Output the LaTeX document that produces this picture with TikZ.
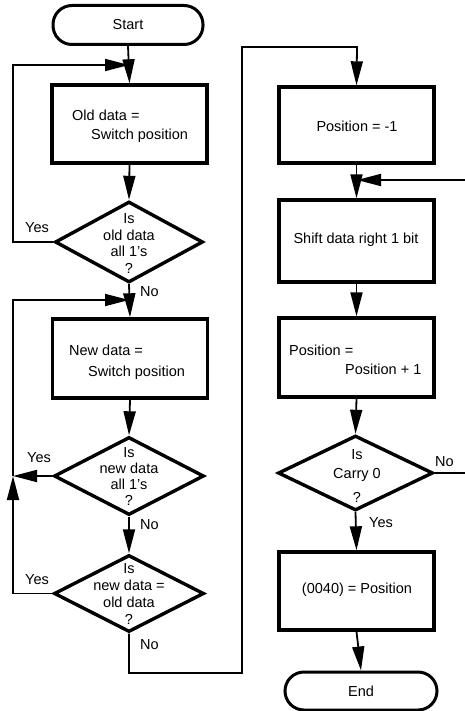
\documentclass[tikz,border=0pt]{standalone}
\usepackage{fontspec}
\setmainfont{Liberation Sans}
\usetikzlibrary{arrows.meta,shapes.geometric}
\tikzset{
  fnt/.style={font=\fontsize{14.5}{16}\selectfont},
  term/.style={draw,line width=3pt,rectangle,rounded corners=19pt,minimum width=150pt,minimum height=39pt,fnt},
  proc/.style={draw,line width=3.4pt,rectangle,minimum width=155pt,inner sep=0pt},
  dec/.style={draw,line width=3.4pt,diamond,inner sep=0pt},
  txt/.style={fnt,inner sep=0pt},
  conn/.style={line width=1.8pt,-{Triangle[length=24pt,width=12pt]}},
  plain/.style={line width=1.8pt},
}
\begin{document}
\begin{tikzpicture}[x=1pt,y=-1pt]
\useasboundingbox (0,0) rectangle (465,711);
% left column
\node[term] (start) at (128,25) {Start};
\node[proc,minimum height=78pt] (old) at (129.5,124) {};
\node[txt,anchor=west] (oldt1) at (72,115) {Old data =};
\node[txt,anchor=west] (oldt2) at (91,136) {Switch position};
\node[dec,minimum width=148pt,minimum height=81pt] (d1) at (129,242) {};
\node[txt] (d1a) at (129,219) {Is};
\node[txt] (d1b) at (129,235) {old data};
\node[txt] (d1c) at (129,251) {all 1's};
\node[txt] (d1d) at (129,268) {?};
\node[txt,anchor=west] (y1) at (25,228) {Yes};
\node[txt,anchor=west] (n1) at (140,292) {No};
\node[proc,minimum height=79pt] (new) at (130,358.5) {};
\node[txt,anchor=west] (newt1) at (69,350) {New data =};
\node[txt,anchor=west] (newt2) at (88,373) {Switch position};
\node[dec,minimum width=150pt,minimum height=78pt] (d2) at (129,476) {};
\node[txt] (d2a) at (129,453) {Is};
\node[txt] (d2b) at (129,468) {new data};
\node[txt] (d2c) at (129,484) {all 1's};
\node[txt] (d2d) at (129,500) {?};
\node[txt,anchor=west] (y2) at (27,458) {Yes};
\node[txt,anchor=west] (n2) at (140,525) {No};
\node[dec,minimum width=150pt,minimum height=77pt] (d3) at (129,593.5) {};
\node[txt] (d3a) at (129,569) {Is};
\node[txt] (d3b) at (129,585) {new data =};
\node[txt] (d3c) at (129,602) {old data};
\node[txt] (d3d) at (129,619) {?};
\node[txt,anchor=west] (y3) at (25,580) {Yes};
\node[txt,anchor=west] (n3) at (140,645) {No};
% right column
\node[proc,minimum height=76pt] (pos) at (356.5,125) {};
\node[txt] (post) at (357,126) {Position = -1};
\node[proc,minimum height=82pt] (shift) at (356.5,241) {};
\node[txt] (shiftt) at (356,240) {Shift data right 1 bit};
\node[proc,minimum height=79pt] (inc) at (356.5,357.5) {};
\node[txt,anchor=west] (inct1) at (289,350) {Position =};
\node[txt,anchor=west] (inct2) at (345,369) {Position + 1};
\node[dec,minimum width=155pt,minimum height=75pt] (dr) at (355.5,473) {};
\node[txt] (dra) at (357,455) {Is};
\node[txt] (drb) at (357,475) {Carry 0};
\node[txt] (drc) at (357,497) {?};
\node[txt,anchor=west] (nr) at (435,462) {No};
\node[txt,anchor=west] (yr) at (369,523) {Yes};
\node[proc,minimum height=78pt] (store) at (356.5,591) {};
\node[txt] (storet) at (357,590) {(0040) = Position};
\node[term,minimum width=152pt,minimum height=38pt] (end) at (361,691) {End};
% coordinates
\coordinate (l1) at (13,242);
\coordinate (l1t) at (13,65);
\coordinate (j1) at (129,65);
\coordinate (lj) at (13,476);
\coordinate (l3) at (13,593.5);
\coordinate (l2t) at (13,300);
\coordinate (j2) at (129,300);
\coordinate (b1) at (129,673);
\coordinate (b2) at (242,673);
\coordinate (b3) at (242,47);
\coordinate (b4) at (357,47);
\coordinate (e1) at (465,180);
\coordinate (j3) at (357,180);
\coordinate (e2) at (465,473);
% connectors left
\draw[conn] (start.south) -- (old.north);
\draw[conn] (d1.west) -- (l1) -- (l1t) -- (j1);
\draw[conn] (old.south) -- (d1.north);
\draw[conn] (d1.south) -- (new.north);
\draw[conn] (new.south) -- (d2.north);
\draw[conn] (d2.west) -- (lj);
\draw[conn] (d3.west) -- (l3) -- (lj);
\draw[conn] (lj) -- (l2t) -- (j2);
\draw[conn] (d2.south) -- (d3.north);
\draw[conn] (d3.south) -- (b1) -- (b2) -- (b3) -- (b4) -- (pos.north);
% connectors right
\draw[conn] (pos.south) -- (shift.north);
\draw[conn] (e1) -- (j3);
\draw[conn] (shift.south) -- (inc.north);
\draw[conn] (inc.south) -- (dr.north);
\draw[plain] (dr.east) -- (e2);
\draw[conn] (dr.south) -- (store.north);
\draw[conn] (store.south) -- (end.north);
\end{tikzpicture}
\end{document}
